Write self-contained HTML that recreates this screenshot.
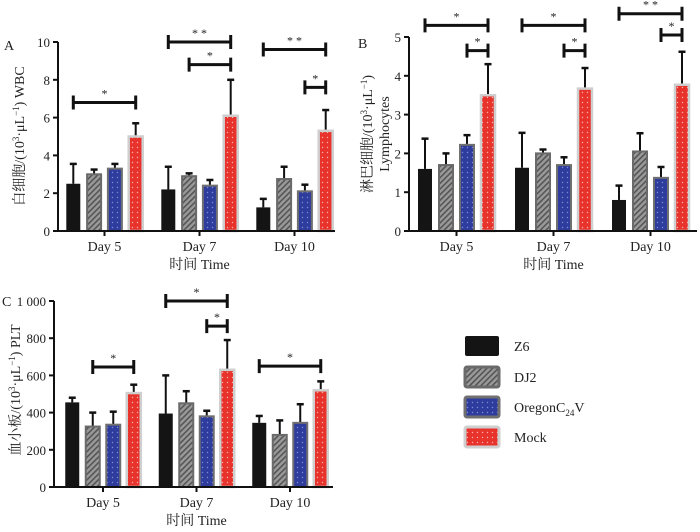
<!DOCTYPE html>
<html><head><meta charset="utf-8"><style>
body{margin:0;background:#fff;width:700px;height:527px;overflow:hidden}
svg{font-family:"Liberation Serif","Noto Serif CJK SC",serif}
</style></head><body>
<svg id="c" width="700" height="527" xmlns="http://www.w3.org/2000/svg">
<defs>
<pattern id="hatch" width="4" height="4" patternUnits="userSpaceOnUse" patternTransform="rotate(45)"><rect width="4" height="4" fill="#9a9a9a"/><rect width="1.6" height="4" fill="#555"/></pattern>
<pattern id="dotsB" width="5" height="5" patternUnits="userSpaceOnUse"><rect width="5" height="5" fill="#2e3c9e"/><circle cx="2.5" cy="2.5" r="0.7" fill="#7f8bd0"/></pattern>
<pattern id="dotsR" width="5" height="5" patternUnits="userSpaceOnUse"><rect width="5" height="5" fill="#e8322c"/><circle cx="2.5" cy="2.5" r="0.7" fill="#f6b0a8"/></pattern>
</defs>
</svg>
<script>
const categories=["Day 5","Day 7","Day 10"];
const seriesNames=["Z6","DJ2","OregonC24V","Mock"];
const wbcMean=[[2.5,3.0,3.3,5.0],[2.2,2.9,2.4,6.1],[1.25,2.75,2.1,5.3]];
const wbcErr=[[1.05,0.25,0.25,0.7],[1.2,0.15,0.3,1.9],[0.45,0.65,0.35,1.1]];
const wbcTicks=[0,2,4,6,8,10];
const wbcSig=[[0,0,3,6.8,"*"],[1,0,3,10,"* *"],[1,1,3,8.8,"*"],[2,0,3,9.6,"* *"],[2,2,3,7.6,"*"]];
const lymMean=[[1.6,1.7,2.22,3.5],[1.63,2.0,1.7,3.67],[0.8,2.05,1.37,3.77]];
const lymErr=[[0.78,0.3,0.25,0.8],[0.9,0.1,0.2,0.53],[0.37,0.47,0.28,0.85]];
const lymTicks=[0,1,2,3,4,5];
const lymSig=[[0,0,3,5.3,"*"],[0,2,3,4.65,"*"],[1,0,3,5.3,"*"],[1,2,3,4.65,"*"],[2,0,3,5.6,"* *"],[2,2,3,5.05,"*"]];
const pltMean=[[455,325,335,505],[395,450,380,630],[345,280,345,520]];
const pltErr=[[25,75,70,45],[205,65,30,160],[37,78,100,48]];
const pltTicks=[0,200,400,600,800,1000];
const pltTickLabels=["0","200","400","600","800","1 000"];
const pltSig=[[0,1,3,645,"*"],[1,0,3,1000,"*"],[1,2,3,865,"*"],[2,0,3,650,"*"]];

const svg=document.getElementById('c');
const NS="http://www.w3.org/2000/svg";
function mk(tag,attrs,parent){const e=document.createElementNS(NS,tag);for(const k in attrs)e.setAttribute(k,attrs[k]);(parent||svg).appendChild(e);return e;}
const fills=["#141414","url(#hatch)","url(#dotsB)","url(#dotsR)"];
const strokes=["#141414","#6a6a6a","#707070","#cfcfcf"];

function panel(p){
  const g=mk('g',{});
  
  
  const y=v=>p.y0-(v-p.min)/(p.max-p.min)*(p.y0-p.y1);
  const gx=i=>p.c0+i*p.step;
  const bx=(i,j)=>gx(i)+(j-1.5)*p.bs;
  p.mean.forEach((row,i)=>row.forEach((v,j)=>{
    const x=bx(i,j),top=y(v),eTop=y(v+p.err[i][j]);
    const el=mk('line',{x1:x,x2:x,y1:top,y2:eTop,stroke:'#111','stroke-width':2},g);
    
    
    const cap=mk('line',{x1:x-3.5,x2:x+3.5,y1:eTop,y2:eTop,stroke:'#111','stroke-width':2.5},g);
    
    
    const r=mk('rect',{x:x-p.bw/2,y:top,width:p.bw,height:p.y0-top,fill:fills[j],stroke:strokes[j],'stroke-width':j==0?0:(j==3?2.5:2)},g);
    
    
  }));
  const ax=mk('path',{d:`M${p.ax},${p.y1}V${p.y0}H${p.axEnd}`,stroke:'#111','stroke-width':2,fill:'none'},g);
  
  
  p.ticks.forEach((t,k)=>{
    mk('line',{x1:p.ax-5,x2:p.ax,y1:y(t),y2:y(t),stroke:'#111','stroke-width':2},g);
    const tl=mk('text',{x:p.ax-8,y:y(t)+5,'text-anchor':'end','font-size':13,fill:'#222'},g);
    tl.textContent=p.labels?p.labels[k]:String(t);
    
    
  });
  categories.forEach((c,i)=>{
    mk('line',{x1:gx(i),x2:gx(i),y1:p.y0,y2:p.y0+5,stroke:'#111','stroke-width':2},g);
    const tl=mk('text',{x:gx(i),y:p.y0+20,'text-anchor':'middle','font-size':14,fill:'#222'},g);
    tl.textContent=c;
    
    
  });
  const xt=mk('text',{x:gx(1),y:p.y0+38,'text-anchor':'middle','font-size':14,fill:'#222'},g);
  xt.textContent='时间 Time';
  
  
  p.sig.forEach(s=>{
    const x1=bx(s[0],s[1]),x2=bx(s[0],s[2]),yy=y(s[3]);
    const b=mk('path',{d:`M${x1},${yy-7}V${yy+7}M${x1},${yy}H${x2}M${x2},${yy-7}V${yy+7}`,stroke:'#111','stroke-width':3,fill:'none'},g);
    
    
    const t=mk('text',{x:(x1+x2)/2,y:yy-5,'text-anchor':'middle','font-size':12,fill:'#222'},g);
    t.textContent=s[4];
    
    
  });
  const L=mk('text',{x:p.lx,y:p.ly,'font-size':14,fill:'#222'},g);
  L.textContent=p.letter;
  
  
  p.ytitle.forEach((t,k)=>{
    const tx=mk('text',{x:0,y:0,'text-anchor':'middle','font-size':14,fill:'#222',transform:`translate(${p.tx+k*17},${p.ty}) rotate(-90)`},g);
    tx.innerHTML=t;
    
    
  });
}
panel({name:'panel-a-wbc',mean:wbcMean,err:wbcErr,ticks:wbcTicks,sig:wbcSig,min:0,max:10,y0:231,y1:42,ax:58,axEnd:335,c0:104.5,step:95,bs:20.8,bw:14,letter:'A',lx:4,ly:50,tx:24,ty:136,
 ytitle:['白细胞/(10<tspan font-size="9" dy="-5">3</tspan><tspan dy="5">·μL</tspan><tspan font-size="9" dy="-5">−1</tspan><tspan dy="5">) WBC</tspan>']});
panel({name:'panel-b-lymphocytes',mean:lymMean,err:lymErr,ticks:lymTicks,sig:lymSig,min:0,max:5,y0:231,y1:37,ax:409,axEnd:697,c0:456.5,step:97,bs:21,bw:14,letter:'B',lx:358,ly:48,tx:372,ty:134,
 ytitle:['淋巴细胞/(10<tspan font-size="9" dy="-5">3</tspan><tspan dy="5">·μL</tspan><tspan font-size="9" dy="-5">−1</tspan><tspan dy="5">)</tspan>','Lymphocytes']});
panel({name:'panel-c-plt',mean:pltMean,err:pltErr,ticks:pltTicks,labels:pltTickLabels,sig:pltSig,min:0,max:1000,y0:487,y1:301,ax:54,axEnd:333,c0:103,step:93.5,bs:20.5,bw:14,letter:'C',lx:2,ly:306,tx:20,ty:390,
 ytitle:['血小板/(10<tspan font-size="9" dy="-5">3</tspan><tspan dy="5">·μL</tspan><tspan font-size="9" dy="-5">−1</tspan><tspan dy="5">) PLT</tspan>']});
const lg=mk('g',{});


const legY=[346,377,407,437];
seriesNames.forEach((n,j)=>{
  const r=mk('rect',{x:465,y:legY[j]-10,width:34,height:20,rx:2,fill:fills[j],stroke:strokes[j],'stroke-width':j==0?0:3},lg);
  
  
  const t=mk('text',{x:514,y:legY[j]+5,'font-size':14,fill:'#222'},lg);
  t.innerHTML=n=='OregonC24V'?'OregonC<tspan font-size="9" dy="4">24</tspan><tspan dy="-4">V</tspan>':n;
  
  
});
</script>
</body></html>
